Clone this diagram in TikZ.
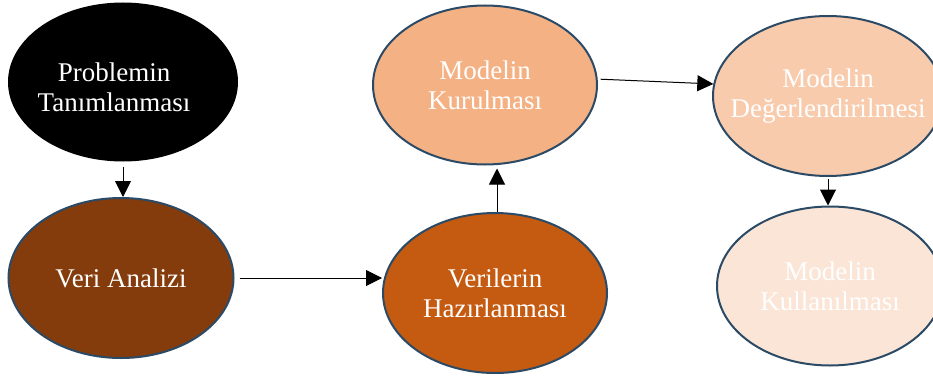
\documentclass[tikz,border=0pt]{standalone}
\usepackage{fontspec}
\setmainfont{Liberation Serif}
\usetikzlibrary{shapes.geometric,arrows.meta}
\definecolor{edgeblue}{HTML}{2B4A66}
\definecolor{cBrown}{HTML}{843C0C}
\definecolor{cOrange}{HTML}{C55A11}
\definecolor{cLight}{HTML}{F4B183}
\definecolor{cLighter}{HTML}{F8CBAD}
\definecolor{cLightest}{HTML}{FBE5D6}
\tikzset{
  stage/.style={ellipse, draw=edgeblue, line width=2pt, inner xsep=-45pt, inner ysep=0pt,
    text=white, align=center, font=\fontsize{27}{30}\selectfont},
  label text/.style={text=white, align=center, inner sep=0pt, font=\fontsize{27}{30}\selectfont},
  flow/.style={-{Triangle[width=16pt,length=16pt]}, line width=1pt, black}
}
\begin{document}
\begin{tikzpicture}[x=1pt,y=1pt]
\useasboundingbox (0,0) rectangle (933,381);
\node[stage, fill=black, draw=black, minimum width=228pt, minimum height=157pt] (prob) at (123,299) {};
\node[label text] (probtext) at (114,294) {Problemin\\Tanımlanması};
\node[stage, fill=cBrown, minimum width=225pt, minimum height=160pt] (veri) at (121,103) {Veri Analizi};
\node[stage, fill=cOrange, minimum width=224pt, minimum height=160pt] (hazir) at (495,88) {Verilerin\\Hazırlanması};
\node[stage, fill=cLight, minimum width=224pt, minimum height=159pt] (kurul) at (485,296) {Modelin\\Kurulması};
\node[stage, fill=cLighter, minimum width=230pt, minimum height=160pt] (deger) at (828,285) {Modelin\\Değerlendirilmesi};
\node[stage, fill=cLightest, minimum width=226pt, minimum height=159pt] (kullan) at (830,95) {Modelin\\Kullanılması};
\draw[flow, shorten <=5pt] (prob.south) -- (prob.south |- veri.north);
\draw[flow, shorten <=5pt] (veri.east) -- (veri.east -| hazir.west);
\draw[flow, shorten >=3pt] (hazir.north -| 497,0) -- (497,0 |- kurul.south);
\draw[flow, shorten <=3pt] (kurul.3) -- (deger.174);
\draw[flow, shorten <=2pt] (deger.south) -- (deger.south |- kullan.north);
\end{tikzpicture}
\end{document}
